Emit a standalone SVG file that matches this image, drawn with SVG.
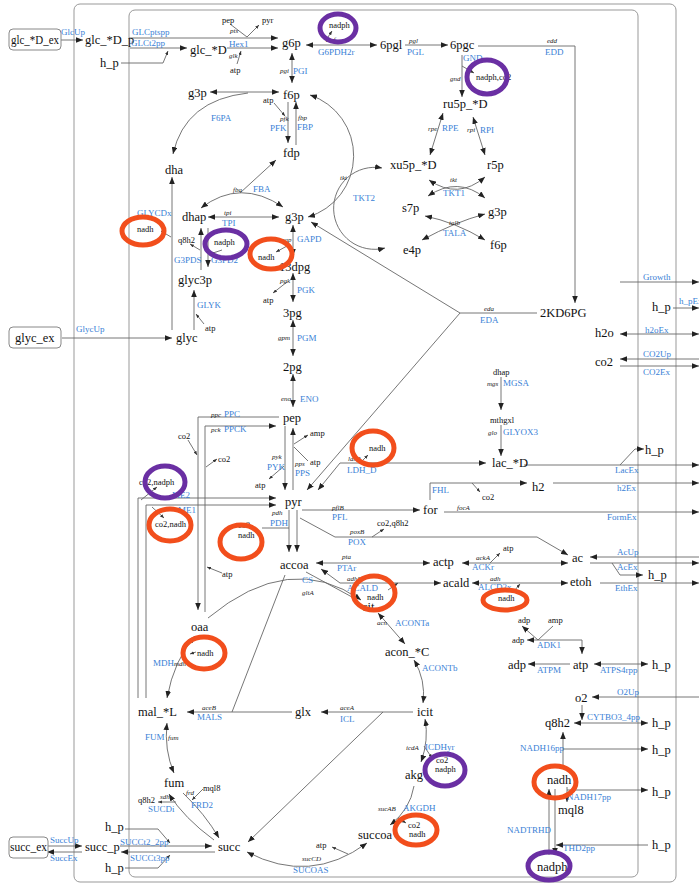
<svg xmlns="http://www.w3.org/2000/svg" width="699" height="883" viewBox="0 0 699 883">
<defs>
<style>
text{font-family:"Liberation Serif","Times New Roman",serif}
.n{font-size:12.5px;fill:#111}
.s{font-size:8.5px;fill:#111}
.r{font-size:9px;fill:#3a7fd6}
.g{font-size:7px;font-style:italic;fill:#222}
.e{fill:none;stroke:#666;stroke-width:0.9}
.e1{marker-end:url(#a)}
.e2{marker-start:url(#a);marker-end:url(#a)}
.as{marker-start:url(#a)}
.c{marker-end:url(#b)}
.box{fill:none;stroke:#999;stroke-width:1}
.xb{fill:#fff;stroke:#888;stroke-width:1}
.rr{fill:none;stroke:#f24e1c;stroke-width:5}
.rp{fill:none;stroke:#6a2fa3;stroke-width:5}
</style>
<marker id="a" viewBox="0 0 10 8" refX="10" refY="4" markerWidth="7" markerHeight="5.6" markerUnits="userSpaceOnUse" orient="auto-start-reverse"><path d="M0,0 L10,4 L0,8 z" fill="#222"/></marker>
<marker id="b" viewBox="0 0 10 8" refX="10" refY="4" markerWidth="4" markerHeight="3.2" markerUnits="userSpaceOnUse" orient="auto-start-reverse"><path d="M0,0 L10,4 L0,8 z" fill="#333"/></marker>
</defs>
<rect width="699" height="883" fill="#fff"/>
<g id="compartments">
<rect class="box" x="74" y="4" width="602" height="878" rx="6"/>
<rect class="box" x="129" y="10" width="509" height="867" rx="6"/>
</g>
<g id="connectors">
<path class="e e1" d="M61,40 H83"/>
<path class="e e1" d="M129,38 H278"/>
<path class="e e1" d="M130,48 H187"/>
<path class="e c" d="M121,63 H163 L168,51"/>
<path class="e e1" d="M227,48 H278"/>
<path class="e c" d="M237,64 L241,51"/>
<path class="e" d="M230,24 L247,37"/>
<path class="e c" d="M247,37 L259,25"/>
<path class="e e2" d="M306,45 H377"/>
<path class="e c" d="M326,40 L332,31"/>
<path class="e e1" d="M405,45 H448"/>
<path class="e e1" d="M478,46 H575 V303"/>
<path class="e e1" d="M462,55 V97"/>
<path class="e c" d="M462,66 L474,73"/>
<path class="e e2" d="M443,113 L430,155"/>
<path class="e e2" d="M473,117 L485,155"/>
<path class="e e2" d="M429,180 Q458,200 485,177"/>
<path class="e e2" d="M428,196 Q458,176 485,198"/>
<path class="e e2" d="M425,216 Q455,222 485,240"/>
<path class="e e2" d="M485,214 Q455,222 422,240"/>
<path class="e e2" d="M310,95 A64,64 0 0 1 308,217"/>
<path class="e e2" d="M382,168 A41,41 0 1 0 385,248"/>
<path class="e e2" d="M292,53 V83"/>
<path class="e e2" d="M210,92 H279"/>
<path class="e e1" d="M248,93 Q185,100 173,154"/>
<path class="e e1" d="M288,102 V143"/>
<path class="e c" d="M274,103 L285,116"/>
<path class="e e1" d="M296,145 V102"/>
<path class="e e2" d="M201,208 Q240,178 283,207"/>
<path class="e e1" d="M240,193 L276,160"/>
<path class="e e2" d="M208,217 H279"/>
<path class="e e1" d="M172,330 V177"/>
<path class="e c" d="M171,237 L161,231"/>
<path class="e e1" d="M201,270 V228"/>
<path class="e c" d="M200,250 L190,244"/>
<path class="e e1" d="M208,228 V267"/>
<path class="e c" d="M222,250 L210,254"/>
<path class="e e1" d="M194,330 V290"/>
<path class="e c" d="M204,324 L196,314"/>
<path class="e e1" d="M62,338 H172"/>
<path class="e e2" d="M293,225 V256"/>
<path class="e c" d="M287,246 L276,252"/>
<path class="e e2" d="M293,273 V302"/>
<path class="e c" d="M287,282 L273,293"/>
<path class="e e2" d="M293,320 V356"/>
<path class="e e2" d="M293,374 V407"/>
<path class="e" d="M537,313 H460"/>
<path class="e e1" d="M460,313 L311,222"/>
<path class="e e1" d="M460,313 L307,490"/>
<path class="e e1" d="M620,282 H699"/>
<path class="e e1" d="M673,308 H699"/>
<path class="e e2" d="M620,334 H699"/>
<path class="e e1" d="M699,359 H620"/>
<path class="e e1" d="M620,366 H699"/>
<path class="e e1" d="M501,377 V410"/>
<path class="e e1" d="M501,425 V456"/>
<path class="e e2" d="M318,490 L340,463 H486"/>
<path class="e c" d="M360,463 L368,455"/>
<path class="e e1" d="M524,465 H699"/>
<path class="e e1" d="M620,465 L635,449 H644"/>
<path class="e e1" d="M430,500 V483 H527"/>
<path class="e c" d="M472,483 L480,492"/>
<path class="e e1" d="M553,483 H699"/>
<path class="e e1" d="M302,510 H420"/>
<path class="e e1" d="M444,512 H699"/>
<path class="e e1" d="M300,518 L335,537 H537 L568,555"/>
<path class="e c" d="M372,537 L384,529"/>
<path class="e e2" d="M316,563 H430"/>
<path class="e e2" d="M462,563 H568"/>
<path class="e c" d="M490,563 L500,553"/>
<path class="e e2" d="M321,569 L340,583 H441"/>
<path class="e c" d="M388,590 L398,583"/>
<path class="e e2" d="M472,583 H568"/>
<path class="e c" d="M515,590 L520,584"/>
<path class="e e1" d="M699,557 H590"/>
<path class="e e1" d="M590,563 H699"/>
<path class="e e1" d="M612,563 L620,575 H643"/>
<path class="e e1" d="M600,583 H699"/>
<path class="e e2" d="M527,640 H582 V654"/>
<path class="e as" d="M522,626 L538,640"/>
<path class="e" d="M553,626 L538,640"/>
<path class="e e1" d="M570,664 H528"/>
<path class="e e2" d="M594,664 H648"/>
<path class="e e1" d="M699,697 H592"/>
<path class="e e1" d="M582,705 V720"/>
<path class="e e2" d="M574,723 H648"/>
<path class="e e1" d="M563,766 V732"/>
<path class="e e1" d="M563,749 H648"/>
<path class="e e1" d="M567,790 H648"/>
<path class="e e1" d="M567,787 V802"/>
<path class="e e1" d="M549,855 V789"/>
<path class="e e1" d="M555,789 V855"/>
<path class="e e1" d="M648,845 H556"/>
<path class="e e1" d="M279,417 H198 V610"/>
<path class="e c" d="M188,440 L197,455"/>
<path class="e e1" d="M205,612 V426 H276"/>
<path class="e c" d="M206,467 L217,459"/>
<path class="e c" d="M222,573 L207,567"/>
<path class="e e1" d="M138,698 V498 H276"/>
<path class="e e1" d="M146,698 V505 H276"/>
<path class="e c" d="M141,500 L157,487"/>
<path class="e c" d="M152,507 L164,518"/>
<path class="e e1" d="M285,426 V490"/>
<path class="e c" d="M284,466 L269,479"/>
<path class="e e1" d="M293,490 V428"/>
<path class="e c" d="M294,444 L308,435"/>
<path class="e" d="M308,461 L294,447"/>
<path class="e e1" d="M289,510 V552"/>
<path class="e e1" d="M297,510 V552"/>
<path class="e" d="M289,528 H262"/>
<path class="e e1" d="M208,618 Q290,550 361,600"/>
<path class="e" d="M306,572 L352,597"/>
<path class="e e2" d="M378,613 L405,644"/>
<path class="e e2" d="M414,660 Q426,680 423,703"/>
<path class="e e1" d="M413,712 H321"/>
<path class="e e1" d="M383,712 L248,842"/>
<path class="e e1" d="M292,712 H187"/>
<path class="e" d="M285,575 L232,712"/>
<path class="e e2" d="M195,636 Q174,660 167,698"/>
<path class="e c" d="M196,652 L190,654"/>
<path class="e e2" d="M167,723 Q164,750 174,773"/>
<path class="e e1" d="M214,840 Q184,818 169,794"/>
<path class="e c" d="M176,802 L158,802"/>
<path class="e e1" d="M183,793 Q205,814 219,838"/>
<path class="e c" d="M203,789 L192,800"/>
<path class="e e2" d="M367,843 Q310,885 247,852"/>
<path class="e c" d="M348,854 L332,847"/>
<path class="e e1" d="M414,786 Q410,810 390,825"/>
<path class="e c" d="M398,818 L406,823"/>
<path class="e e2" d="M425,719 Q429,740 421,762"/>
<path class="e c" d="M424,746 L432,758"/>
<path class="e e1" d="M47,846 H82"/>
<path class="e e1" d="M82,852 H47"/>
<path class="e e1" d="M120,846 H212"/>
<path class="e c" d="M125,829 H158 L170,843"/>
<path class="e e1" d="M215,852 H121"/>
<path class="e c" d="M125,868 H158 L170,855"/>
</g>
<g id="nodes">
<g id="glc_D_ex"><rect class="xb" x="9" y="29" width="52" height="21" rx="4"/><text class="n" x="11" y="44" textLength="48" lengthAdjust="spacingAndGlyphs">glc_*D_ex</text></g>
<g id="glc_D_p"><text class="n" x="85" y="44">glc_*D_p</text></g>
<g id="h_p_1"><text class="n" x="100" y="67">h_p</text></g>
<g id="glc_D"><text class="n" x="190" y="54">glc_*D</text></g>
<g id="g6p"><text class="n" x="282" y="47">g6p</text></g>
<g id="pgl6"><text class="n" x="380" y="49">6pgl</text></g>
<g id="pgc6"><text class="n" x="450" y="49">6pgc</text></g>
<g id="ru5p"><text class="n" x="443" y="108">ru5p_*D</text></g>
<g id="xu5p"><text class="n" x="390" y="169">xu5p_*D</text></g>
<g id="r5p"><text class="n" x="487" y="169">r5p</text></g>
<g id="s7p"><text class="n" x="402" y="212">s7p</text></g>
<g id="g3p_r"><text class="n" x="488" y="216">g3p</text></g>
<g id="e4p"><text class="n" x="403" y="254">e4p</text></g>
<g id="f6p_r"><text class="n" x="490" y="249">f6p</text></g>
<g id="g3p_t"><text class="n" x="188" y="97">g3p</text></g>
<g id="f6p"><text class="n" x="283" y="99">f6p</text></g>
<g id="dha"><text class="n" x="165" y="174">dha</text></g>
<g id="fdp"><text class="n" x="283" y="157">fdp</text></g>
<g id="dhap"><text class="n" x="182" y="221">dhap</text></g>
<g id="g3p"><text class="n" x="285" y="221">g3p</text></g>
<g id="glyc3p"><text class="n" x="178" y="284">glyc3p</text></g>
<g id="glyc"><text class="n" x="176" y="342">glyc</text></g>
<g id="glyc_ex"><rect class="xb" x="9" y="327" width="52" height="21" rx="4"/><text class="n" x="15" y="342">glyc_ex</text></g>
<g id="dpg13"><text class="n" x="279" y="271">13dpg</text></g>
<g id="pg3"><text class="n" x="283" y="317">3pg</text></g>
<g id="pg2"><text class="n" x="283" y="371">2pg</text></g>
<g id="pep"><text class="n" x="283" y="422">pep</text></g>
<g id="kd6pg"><text class="n" x="540" y="317">2KD6PG</text></g>
<g id="h_p_2"><text class="n" x="652" y="311">h_p</text></g>
<g id="h2o"><text class="n" x="595" y="337">h2o</text></g>
<g id="co2"><text class="n" x="595" y="366">co2</text></g>
<g id="dhap_s"><text class="s" x="493" y="375">dhap</text></g>
<g id="mthgxl"><text class="s" x="490" y="423">mthgxl</text></g>
<g id="lac_D"><text class="n" x="492" y="467">lac_*D</text></g>
<g id="h_p_3"><text class="n" x="645" y="454">h_p</text></g>
<g id="h2"><text class="n" x="532" y="491">h2</text></g>
<g id="for"><text class="n" x="423" y="514">for</text></g>
<g id="pyr"><text class="n" x="285" y="506">pyr</text></g>
<g id="ac"><text class="n" x="572" y="562">ac</text></g>
<g id="actp"><text class="n" x="433" y="566">actp</text></g>
<g id="accoa"><text class="n" x="280" y="569">accoa</text></g>
<g id="acald"><text class="n" x="443" y="587">acald</text></g>
<g id="etoh"><text class="n" x="570" y="586">etoh</text></g>
<g id="h_p_4"><text class="n" x="648" y="579">h_p</text></g>
<g id="atp"><text class="n" x="573" y="669">atp</text></g>
<g id="adp"><text class="n" x="508" y="669">adp</text></g>
<g id="h_p_5"><text class="n" x="652" y="669">h_p</text></g>
<g id="o2"><text class="n" x="575" y="702">o2</text></g>
<g id="q8h2"><text class="n" x="545" y="727">q8h2</text></g>
<g id="h_p_6"><text class="n" x="652" y="727">h_p</text></g>
<g id="h_p_7"><text class="n" x="652" y="754">h_p</text></g>
<g id="nadh"><text class="n" x="547" y="784">nadh</text></g>
<g id="h_p_8"><text class="n" x="652" y="796">h_p</text></g>
<g id="mql8"><text class="n" x="558" y="814">mql8</text></g>
<g id="h_p_9"><text class="n" x="652" y="849">h_p</text></g>
<g id="nadph"><text class="n" x="537" y="871">nadph</text></g>
<g id="oaa"><text class="n" x="191" y="631">oaa</text></g>
<g id="mal_L"><text class="n" x="138" y="716">mal_*L</text></g>
<g id="fum"><text class="n" x="164" y="787">fum</text></g>
<g id="succ"><text class="n" x="218" y="851">succ</text></g>
<g id="succ_p"><text class="n" x="85" y="851">succ_p</text></g>
<g id="h_p_10"><text class="n" x="105" y="831">h_p</text></g>
<g id="h_p_11"><text class="n" x="105" y="872">h_p</text></g>
<g id="succ_ex"><rect class="xb" x="9" y="837" width="39" height="21" rx="4"/><text class="n" x="10" y="851" textLength="37" lengthAdjust="spacingAndGlyphs">succ_ex</text></g>
<g id="acon_C"><text class="n" x="385" y="656">acon_*C</text></g>
<g id="icit"><text class="n" x="417" y="716">icit</text></g>
<g id="glx"><text class="n" x="295" y="716">glx</text></g>
<g id="akg"><text class="n" x="405" y="779">akg</text></g>
<g id="succoa"><text class="n" x="358" y="839">succoa</text></g>
<g id="cit"><text class="n" x="362" y="611">cit</text></g>
</g>
<g id="cofactors">
<text class="s" x="222" y="23">pep</text><text class="s" x="262" y="23">pyr</text><text class="s" x="230" y="73">atp</text>
<text class="s" x="329" y="28">nadph</text>
<text class="s" x="476" y="80">nadph,co2</text>
<text class="s" x="263" y="103">atp</text>
<text class="s" x="137" y="232">nadh</text>
<text class="s" x="178" y="243">q8h2</text>
<text class="s" x="214" y="245">nadph</text>
<text class="s" x="205" y="331">atp</text>
<text class="s" x="258" y="260">nadh</text>
<text class="s" x="263" y="303">atp</text>
<text class="s" x="178" y="439">co2</text>
<text class="s" x="218" y="462">co2</text>
<text class="s" x="139" y="485">co2,nadph</text>
<text class="s" x="155" y="527">co2,nadh</text>
<text class="s" x="222" y="577">atp</text>
<text class="s" x="310" y="436">amp</text>
<text class="s" x="310" y="465">atp</text>
<text class="s" x="255" y="488">atp</text>
<text class="s" x="369" y="451">nadh</text>
<text class="s" x="238" y="528">co2</text>
<text class="s" x="238" y="538">nadh</text>
<text class="s" x="482" y="500">co2</text>
<text class="s" x="377" y="526">co2,q8h2</text>
<text class="s" x="503" y="551">atp</text>
<text class="s" x="367" y="600">nadh</text>
<text class="s" x="498" y="601">nadh</text>
<text class="s" x="518" y="623">adp</text><text class="s" x="548" y="623">amp</text><text class="s" x="512" y="643">adp</text>
<text class="s" x="197" y="656">nadh</text>
<text class="s" x="436" y="763">co2</text><text class="s" x="435" y="772">nadph</text>
<text class="s" x="408" y="828">co2</text><text class="s" x="409" y="837">nadh</text>
<text class="s" x="316" y="848">atp</text>
<text class="s" x="203" y="791">mql8</text>
<text class="s" x="138" y="803">q8h2</text>
</g>
<g id="reactions">
<text class="r" x="61" y="35">GlcUp</text>
<text class="r" x="132" y="35">GLCptspp</text>
<text class="r" x="131" y="46">GLCt2pp</text>
<text class="r" x="229" y="47">Hex1</text>
<text class="r" x="318" y="55">G6PDH2r</text>
<text class="r" x="407" y="55">PGL</text>
<text class="r" x="545" y="55">EDD</text>
<text class="r" x="463" y="61">GND</text>
<text class="r" x="293" y="74">PGI</text>
<text class="r" x="442" y="131">RPE</text>
<text class="r" x="480" y="133">RPI</text>
<text class="r" x="211" y="121">F6PA</text>
<text class="r" x="270" y="131">PFK</text>
<text class="r" x="297" y="130">FBP</text>
<text class="r" x="253" y="192">FBA</text>
<text class="r" x="353" y="201">TKT2</text>
<text class="r" x="443" y="196">TKT1</text>
<text class="r" x="443" y="236">TALA</text>
<text class="r" x="137" y="216">GLYCDx</text>
<text class="r" x="222" y="226">TPI</text>
<text class="r" x="174" y="263">G3PDS</text>
<text class="r" x="211" y="263">G3PD2</text>
<text class="r" x="197" y="308">GLYK</text>
<text class="r" x="76" y="332">GlycUp</text>
<text class="r" x="297" y="242">GAPD</text>
<text class="r" x="297" y="293">PGK</text>
<text class="r" x="297" y="341">PGM</text>
<text class="r" x="300" y="402">ENO</text>
<text class="r" x="643" y="280">Growth</text>
<text class="r" x="679" y="304">h_pEx</text>
<text class="r" x="645" y="333">h2oEx</text>
<text class="r" x="643" y="357">CO2Up</text>
<text class="r" x="643" y="375">CO2Ex</text>
<text class="r" x="480" y="323">EDA</text>
<text class="r" x="503" y="386">MGSA</text>
<text class="r" x="503" y="435">GLYOX3</text>
<text class="r" x="224" y="417">PPC</text>
<text class="r" x="224" y="432">PPCK</text>
<text class="r" x="172" y="498">ME2</text>
<text class="r" x="178" y="513">ME1</text>
<text class="r" x="267" y="470">PYK</text>
<text class="r" x="295" y="476">PPS</text>
<text class="r" x="347" y="473">LDH_D</text>
<text class="r" x="270" y="526">PDH</text>
<text class="r" x="332" y="520">PFL</text>
<text class="r" x="348" y="545">POX</text>
<text class="r" x="432" y="493">FHL</text>
<text class="r" x="337" y="571">PTAr</text>
<text class="r" x="302" y="583">CS</text>
<text class="r" x="347" y="591">ACALD</text>
<text class="r" x="472" y="570">ACKr</text>
<text class="r" x="478" y="590">ALCD2x</text>
<text class="r" x="615" y="473">LacEx</text>
<text class="r" x="617" y="491">h2Ex</text>
<text class="r" x="607" y="520">FormEx</text>
<text class="r" x="617" y="555">AcUp</text>
<text class="r" x="617" y="570">AcEx</text>
<text class="r" x="615" y="591">EthEx</text>
<text class="r" x="537" y="648">ADK1</text>
<text class="r" x="395" y="626">ACONTa</text>
<text class="r" x="422" y="671">ACONTb</text>
<text class="r" x="340" y="722">ICL</text>
<text class="r" x="425" y="750">ICDHyr</text>
<text class="r" x="403" y="811">AKGDH</text>
<text class="r" x="293" y="873">SUCOAS</text>
<text class="r" x="153" y="666">MDH</text>
<text class="r" x="197" y="720">MALS</text>
<text class="r" x="145" y="740">FUM</text>
<text class="r" x="148" y="812">SUCDi</text>
<text class="r" x="191" y="808">FRD2</text>
<text class="r" x="50" y="843">SuccUp</text>
<text class="r" x="50" y="861">SuccEx</text>
<text class="r" x="120" y="845">SUCCt2_2pp</text>
<text class="r" x="130" y="861">SUCCt3pp</text>
<text class="r" x="537" y="673">ATPM</text>
<text class="r" x="600" y="673">ATPS4rpp</text>
<text class="r" x="617" y="695">O2Up</text>
<text class="r" x="587" y="720">CYTBO3_4pp</text>
<text class="r" x="520" y="751">NADH16pp</text>
<text class="r" x="567" y="800">NADH17pp</text>
<text class="r" x="507" y="833">NADTRHD</text>
<text class="r" x="563" y="851">THD2pp</text>
</g>
<g id="genes">
<text class="g" x="230" y="33">pts</text>
<text class="g" x="229" y="58">glk</text>
<text class="g" x="326" y="42">zwf</text>
<text class="g" x="409" y="43">pgl</text>
<text class="g" x="547" y="43">edd</text>
<text class="g" x="450" y="81">gnd</text>
<text class="g" x="280" y="73">pgi</text>
<text class="g" x="428" y="131">rpe</text>
<text class="g" x="467" y="132">rpi</text>
<text class="g" x="280" y="121">pfk</text>
<text class="g" x="298" y="120">fbp</text>
<text class="g" x="340" y="180">tkt</text>
<text class="g" x="450" y="182">tkt</text>
<text class="g" x="449" y="225">talb</text>
<text class="g" x="233" y="192">fba</text>
<text class="g" x="224" y="215">tpi</text>
<text class="g" x="281" y="242">gap</text>
<text class="g" x="280" y="283">pgk</text>
<text class="g" x="278" y="340">gpm</text>
<text class="g" x="281" y="401">eno</text>
<text class="g" x="484" y="311">eda</text>
<text class="g" x="487" y="386">mgs</text>
<text class="g" x="488" y="435">glo</text>
<text class="g" x="211" y="417">ppc</text>
<text class="g" x="211" y="432">pck</text>
<text class="g" x="272" y="459">pyk</text>
<text class="g" x="295" y="466">pps</text>
<text class="g" x="272" y="515">pdh</text>
<text class="g" x="332" y="510">pflB</text>
<text class="g" x="350" y="534">poxB</text>
<text class="g" x="457" y="510">focA</text>
<text class="g" x="348" y="461">ldhA</text>
<text class="g" x="342" y="559">pta</text>
<text class="g" x="476" y="560">ackA</text>
<text class="g" x="302" y="595">gltA</text>
<text class="g" x="347" y="581">adhE</text>
<text class="g" x="490" y="581">adh</text>
<text class="g" x="377" y="625">acn</text>
<text class="g" x="340" y="710">aceA</text>
<text class="g" x="406" y="750">icdA</text>
<text class="g" x="378" y="811">sucAB</text>
<text class="g" x="302" y="861">sucCD</text>
<text class="g" x="174" y="666">mdh</text>
<text class="g" x="202" y="710">aceB</text>
<text class="g" x="168" y="740">fum</text>
<text class="g" x="186" y="795">frd</text>
<text class="g" x="160" y="799">sdh</text>
</g>
<g id="highlights">
<ellipse class="rp" cx="338" cy="28" rx="18" ry="14"/>
<ellipse class="rp" cx="487" cy="77" rx="20" ry="17"/>
<ellipse class="rp" cx="226" cy="244" rx="21" ry="14"/>
<ellipse class="rp" cx="165" cy="482" rx="20" ry="16"/>
<ellipse class="rp" cx="445" cy="770" rx="20" ry="16"/>
<ellipse class="rp" cx="549" cy="866" rx="21" ry="14"/>
<ellipse class="rr" cx="143" cy="231" rx="21" ry="14"/>
<ellipse class="rr" cx="271" cy="254" rx="21" ry="15"/>
<ellipse class="rr" cx="373" cy="448" rx="21" ry="17"/>
<ellipse class="rr" cx="170" cy="525" rx="21" ry="16"/>
<ellipse class="rr" cx="241" cy="542" rx="21" ry="17"/>
<ellipse class="rr" cx="374" cy="593" rx="21" ry="17"/>
<ellipse class="rr" cx="505" cy="600" rx="22" ry="10"/>
<ellipse class="rr" cx="204" cy="653" rx="21" ry="16"/>
<ellipse class="rr" cx="555" cy="782" rx="21" ry="16"/>
<ellipse class="rr" cx="416" cy="830" rx="21" ry="15"/>
</g>
</svg>
